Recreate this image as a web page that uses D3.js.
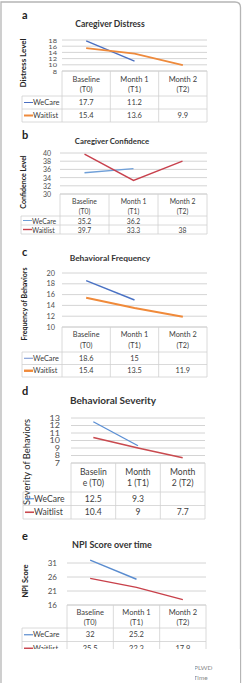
<!DOCTYPE html>
<html>
<head>
<meta charset="utf-8">
<script src="https://cdn.jsdelivr.net/npm/d3@7"></script>
<style>
  body { margin: 0; background: #fff; }
  svg { display: block; }
  text { font-family: Lato, "Open Sans", sans-serif; }
</style>
</head>
<body>
<svg width="246" height="683"></svg>
<script>
// categories and series
const categories = [["Baseline", "(T0)"], ["Month 1", "(T1)"], ["Month 2", "(T2)"]];
const categoriesWrapped = [["Baselin", "e (T0)"], ["Month", "1 (T1)"], ["Month", "2 (T2)"]];
const seriesNames = ["WeCare", "Waitlist"];

const distressWeCare = [17.7, 11.2];
const distressWaitlist = [15.4, 13.6, 9.9];
const distressTicks = [8, 10, 12, 14, 16, 18];

const confidenceWeCare = [35.2, 36.2];
const confidenceWaitlist = [39.7, 33.3, 38];
const confidenceTicks = [30, 32, 34, 36, 38, 40];

const frequencyWeCare = [18.6, 15];
const frequencyWaitlist = [15.4, 13.5, 11.9];
const frequencyTicks = [10, 12, 14, 16, 18, 20];

const severityWeCare = [12.5, 9.3];
const severityWaitlist = [10.4, 9, 7.7];
const severityTicks = [7, 8, 9, 10, 11, 12, 13];

const npiWeCare = [32, 25.2];
const npiWaitlist = [25.5, 22.3, 17.9];
const npiTicks = [16, 21, 26, 31];

const svg = d3.select("svg");
const gridColor = "#c9c9c9";
const tableColor = "#d0d0d0";
const textColor = "#404040";

// outer frame of the figure
svg.append("path")
    .attr("d", "M1,683 L1,2 L235,2 Q240.5,2 240.5,7.5 L240.5,683")
    .attr("fill", "none")
    .attr("stroke", "#b5b5b5")
    .attr("stroke-width", 1.3);

function drawPanel(p) {
    let g = svg.append("g");

    g.append("text")
        .attr("x", 22).attr("y", p.letterY)
        .attr("dominant-baseline", "central")
        .attr("font-size", 11).attr("font-weight", "bold")
        .attr("fill", "#222")
        .text(p.letter);

    g.append("text")
        .attr("x", p.titleX).attr("y", p.titleY)
        .attr("text-anchor", "middle")
        .attr("dominant-baseline", "central")
        .attr("font-size", p.titleSize).attr("font-weight", "bold")
        .attr("fill", "#333")
        .text(p.title);

    const x = d3.scaleBand().domain(d3.range(categories.length)).range([p.x0, p.x1]);
    const y = d3.scaleLinear().domain(d3.extent(p.ticks)).range([p.bot, p.top]);
    const cx = i => x(i) + x.bandwidth() / 2;

    // gridlines
    g.selectAll("line.grid")
        .data(p.ticks)
        .join("line")
        .attr("x1", p.x0).attr("x2", p.x1)
        .attr("y1", d => y(d)).attr("y2", d => y(d))
        .attr("stroke", gridColor)
        .attr("stroke-width", 0.8);

    // tick labels, squashed when the rows are tight like in the source
    const sq = p.tickSquash || 1;
    g.selectAll("text.tick")
        .data(p.ticks)
        .join("text")
        .attr("transform", d => `translate(${p.tickX},${y(d)}) scale(1,${sq})`)
        .attr("text-anchor", "end")
        .attr("dominant-baseline", "central")
        .attr("font-size", p.tickSize)
        .attr("fill", "#505050")
        .text(d => d);

    // axis title
    g.append("text")
        .attr("transform", `translate(${p.axX},${p.axY}) rotate(-90)`)
        .attr("text-anchor", "middle")
        .attr("dominant-baseline", "central")
        .attr("font-size", p.axSize).attr("font-weight", p.axWeight || "bold")
        .attr("fill", "#222")
        .text(p.axTitle);

    // series lines
    const line = d3.line().x((d, i) => cx(i)).y(d => y(d));
    p.series.forEach((s, k) => {
        g.append("path")
            .datum(s)
            .attr("d", line)
            .attr("fill", "none")
            .attr("stroke", p.colors[k])
            .attr("stroke-width", p.widths[k]);
    });

    // data table
    const t0 = p.bot, t1 = p.bot + p.head;
    const rowsBottom = t1 + p.row * p.series.length;
    let tb = g.append("g").attr("stroke", tableColor).attr("stroke-width", 0.8);
    tb.append("line").attr("x1", p.x0).attr("x2", p.x1).attr("y1", t0).attr("y2", t0);
    for (let r = 0; r <= p.series.length; r++) {
        tb.append("line").attr("x1", p.legX).attr("x2", p.x1)
            .attr("y1", t1 + r * p.row).attr("y2", t1 + r * p.row);
    }
    x.domain().concat([categories.length]).forEach(i => {
        const xx = i < categories.length ? x(i) : p.x1;
        tb.append("line").attr("x1", xx).attr("x2", xx).attr("y1", t0).attr("y2", rowsBottom);
    });
    tb.append("line").attr("x1", p.legX).attr("x2", p.legX).attr("y1", t1).attr("y2", rowsBottom);

    p.cats.forEach((c, i) => {
        c.forEach((part, j) => {
            g.append("text")
                .attr("x", cx(i)).attr("y", t0 + p.headY[j])
                .attr("text-anchor", "middle")
                .attr("dominant-baseline", "central")
                .attr("font-size", p.tableSize)
                .attr("fill", textColor)
                .text(part);
        });
    });

    p.series.forEach((s, k) => {
        const ry = t1 + p.row * k + p.row / 2;
        g.append("line")
            .attr("x1", p.legX + 2).attr("x2", p.legX + 11)
            .attr("y1", ry).attr("y2", ry)
            .attr("stroke", p.colors[k])
            .attr("stroke-width", p.legWidths[k]);
        g.append("text")
            .attr("x", p.legX + 11).attr("y", ry)
            .attr("dominant-baseline", "central")
            .attr("font-size", p.tableSize)
            .attr("fill", textColor)
            .text(seriesNames[k]);
        s.forEach((v, i) => {
            g.append("text")
                .attr("x", cx(i)).attr("y", ry)
                .attr("text-anchor", "middle")
                .attr("dominant-baseline", "central")
                .attr("font-size", p.tableSize)
                .attr("fill", textColor)
                .text(v);
        });
    });
}

drawPanel({
    letter: "a", letterY: 14, title: "Caregiver Distress", titleX: 110, titleY: 24, titleSize: 8.6,
    x0: 62, x1: 207, top: 40, bot: 71, ticks: distressTicks, tickX: 57, tickSize: 7.5, tickSquash: 0.75,
    axTitle: "Distress Level", axX: 23, axY: 63, axSize: 8,
    series: [distressWeCare, distressWaitlist], colors: ["#4a6fc1", "#ee8a3c"],
    widths: [1.4, 1.8], legWidths: [1, 2],
    cats: categories, head: 25, headY: [8, 18], row: 13, tableSize: 7.5, legX: 22
});

drawPanel({
    letter: "b", letterY: 134, title: "Caregiver Confidence", titleX: 112, titleY: 141, titleSize: 7.8,
    x0: 60, x1: 207, top: 153, bot: 194, ticks: confidenceTicks, tickX: 51, tickSize: 7,
    axTitle: "Confidence Level", axX: 23, axY: 182, axSize: 7,
    series: [confidenceWeCare, confidenceWaitlist], colors: ["#6f9fd8", "#c8414d"],
    widths: [1.4, 1.4], legWidths: [1, 1.4],
    cats: categories, head: 22, headY: [7, 17], row: 9, tableSize: 6.8, legX: 21
});

drawPanel({
    letter: "c", letterY: 251, title: "Behavioral Frequency", titleX: 110, titleY: 258, titleSize: 8.4,
    x0: 62, x1: 207, top: 273, bot: 327, ticks: frequencyTicks, tickX: 55, tickSize: 7.3,
    axTitle: "Frequency of Behaviors", axX: 24, axY: 304, axSize: 7,
    series: [frequencyWeCare, frequencyWaitlist], colors: ["#4a72c4", "#f08a3a"],
    widths: [1.4, 2], legWidths: [0.8, 2.4],
    cats: categories, head: 25, headY: [7, 18], row: 12.5, tableSize: 7.3, legX: 22
});

drawPanel({
    letter: "d", letterY: 390, title: "Behavioral Severity", titleX: 113, titleY: 400, titleSize: 10,
    x0: 71, x1: 205, top: 418, bot: 463, ticks: severityTicks, tickX: 60, tickSize: 9, tickSquash: 0.8,
    axTitle: "Severity of Behaviors", axX: 26, axY: 462, axSize: 9.3, axWeight: "normal",
    series: [severityWeCare, severityWaitlist], colors: ["#5b8fd4", "#c94a4f"],
    widths: [1.3, 1.6], legWidths: [1.2, 1.6],
    cats: categoriesWrapped, head: 29, headY: [9, 20], row: 13.5, tableSize: 8.6, legX: 23
});

drawPanel({
    letter: "e", letterY: 535, title: "NPI Score over time", titleX: 112, titleY: 544, titleSize: 9,
    x0: 67, x1: 206, top: 563, bot: 605, ticks: npiTicks, tickX: 57, tickSize: 8,
    axTitle: "NPI Score", axX: 25, axY: 581, axSize: 7.5,
    series: [npiWeCare, npiWaitlist], colors: ["#5a8ccf", "#c8404a"],
    widths: [1.4, 1.4], legWidths: [1.2, 1.4],
    cats: categories, head: 23, headY: [7, 17], row: 13.5, tableSize: 7.5, legX: 22
});

// the figure is cut off below panel e
svg.append("rect")
    .attr("x", 2).attr("y", 649).attr("width", 238).attr("height", 34)
    .attr("fill", "#fff");

svg.append("clipPath").attr("id", "cut")
    .append("rect").attr("x", 195).attr("y", 655).attr("width", 45).attr("height", 28);
let tail = svg.append("g").attr("clip-path", "url(#cut)")
    .attr("font-size", 6.5).attr("fill", "#8a8a8a");
tail.append("text").attr("x", 194).attr("y", 667).attr("dominant-baseline", "central").text("PLWD");
tail.append("text").attr("x", 193.5).attr("y", 677).attr("dominant-baseline", "central").text("Time");
</script>
</body>
</html>
